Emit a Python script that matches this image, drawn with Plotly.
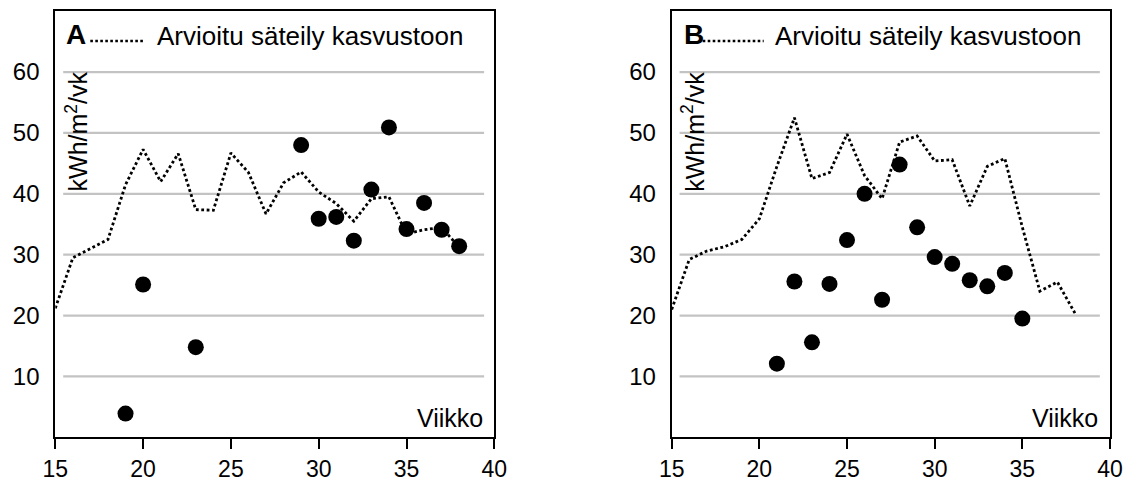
import plotly.graph_objects as go

# ---------------- data ----------------
weeks_line = list(range(15, 39))
radiation_A = [21.2, 29.5, 31.0, 32.5, 41.5, 47.3, 42.0, 46.6, 37.4, 37.3, 46.7, 43.5,
               36.7, 41.8, 43.6, 40.3, 38.4, 35.5, 39.2, 39.5, 33.4, 34.1, 34.5, 31.2]
radiation_B = [21.0, 29.2, 30.6, 31.3, 32.5, 35.9, 44.5, 52.5, 42.5, 43.5, 49.8, 43.0,
               39.2, 48.5, 49.5, 45.4, 45.6, 38.0, 44.5, 45.8, 34.5, 24.0, 25.5, 20.4]

weeks_A = [19, 20, 23, 29, 30, 31, 32, 33, 34, 35, 36, 37, 38]
values_A = [3.9, 25.1, 14.8, 48.0, 35.9, 36.2, 32.3, 40.7, 50.9, 34.2, 38.5, 34.1, 31.4]

weeks_B = [21, 22, 23, 24, 25, 26, 27, 28, 29, 30, 31, 32, 33, 34, 35]
values_B = [12.1, 25.6, 15.6, 25.2, 32.4, 40.0, 22.6, 44.8, 34.5, 29.6, 28.5, 25.8, 24.8, 27.0, 19.5]

x_ticks = [15, 20, 25, 30, 35, 40]
y_ticks = [10, 20, 30, 40, 50, 60]
panel_labels = ["A", "B"]
legend_text = "Arvioitu säteily kasvustoon"
y_title = "kWh/m<sup>2</sup>/vk"
x_title = "Viikko"

# ---------------- figure ----------------
W, H = 1125, 481
FONT = "Liberation Sans, Arial, sans-serif"

def px(x):
    return x / W

def py(y):
    return 1 - y / H

fig = go.Figure()

panels = [
    dict(xa="x", ya="y", line=radiation_A, wx=weeks_A, wy=values_A),
    dict(xa="x2", ya="y2", line=radiation_B, wx=weeks_B, wy=values_B),
]

for p in panels:
    fig.add_trace(go.Scatter(
        x=weeks_line, y=p["line"], mode="lines", xaxis=p["xa"], yaxis=p["ya"],
        line=dict(color="black", width=2.8, dash="2.8px,2.6px"), showlegend=False,
        hoverinfo="skip"))
    fig.add_trace(go.Scatter(
        x=p["wx"], y=p["wy"], mode="markers", xaxis=p["xa"], yaxis=p["ya"],
        marker=dict(color="black", size=16, line=dict(width=0)), showlegend=False))

ydom = [py(437.3), py(11.2)]
axis_common_x = dict(range=[15, 40], tickvals=x_ticks, ticks="outside", ticklen=10,
                     tickwidth=2, tickcolor="black", showline=True, linewidth=2,
                     linecolor="black", mirror=True, showgrid=False, zeroline=False,
                     automargin=False,
                     tickfont=dict(family=FONT, size=23, color="black"))
axis_common_y = dict(range=[0, 70], tickvals=y_ticks, ticks="", showline=True,
                     linewidth=2, linecolor="black", mirror=True, showgrid=False,
                     zeroline=False, ticklabelstandoff=9, automargin=False,
                     tickfont=dict(family=FONT, size=24, color="black"))

fig.update_layout(
    width=W, height=H, autosize=False,
    margin=dict(l=0, r=0, t=0, b=0, pad=0),
    paper_bgcolor="white", plot_bgcolor="white",
    xaxis=dict(domain=[px(55.3), px(494.3)], anchor="y", **axis_common_x),
    yaxis=dict(domain=ydom, anchor="x", **axis_common_y),
    xaxis2=dict(domain=[px(671.7), px(1110)], anchor="y2", **axis_common_x),
    yaxis2=dict(domain=ydom, anchor="x2", **axis_common_y),
)

# gridlines (inset from the frame)
for xa, ya in [("x", "y"), ("x2", "y2")]:
    for v in y_ticks:
        fig.add_shape(type="line", xref=xa, yref=ya, x0=15.45, x1=39.42, y0=v, y1=v,
                      line=dict(color="#c3c3c3", width=2.2), layer="below")

# legend-like header, axis titles
headers = [
    dict(frame_left=55.3, label_dx=9, line_dx=(35, 89), text_dx=100, xa="x", ya="y"),
    dict(frame_left=671.7, label_dx=10, line_dx=(31, 92), text_dx=101, xa="x2", ya="y2"),
]
for lab, h in zip(panel_labels, headers):
    fl = h["frame_left"]
    fig.add_annotation(xref="paper", yref="paper", x=px(fl + h["label_dx"]), y=py(34),
                       xanchor="left", yanchor="middle", showarrow=False,
                       text="<b>%s</b>" % lab,
                       font=dict(family=FONT, size=28, color="black"))
    fig.add_shape(type="line", xref="paper", yref="paper",
                  x0=px(fl + h["line_dx"][0]), x1=px(fl + h["line_dx"][1]),
                  y0=py(41), y1=py(41),
                  line=dict(color="black", width=2.6, dash="2.6px,2.4px"))
    fig.add_annotation(xref="paper", yref="paper", x=px(fl + h["text_dx"]), y=py(36.5),
                       xanchor="left", yanchor="middle", showarrow=False,
                       text=legend_text,
                       font=dict(family=FONT, size=26, color="black"))
    fig.add_annotation(xref=h["xa"], yref=h["ya"], x=16.22, y=50.2, textangle=-90,
                       xanchor="center", yanchor="middle", showarrow=False,
                       text=y_title, font=dict(family=FONT, size=25, color="black"))
    fig.add_annotation(xref=h["xa"], yref=h["ya"], x=39.45, y=0.6,
                       xanchor="right", yanchor="bottom", showarrow=False,
                       text=x_title, font=dict(family=FONT, size=25, color="black"))

fig.write_html("out.html",
               config={"displayModeBar": False},
               post_script="document.body.style.margin='0px';"
                           "document.body.style.overflow='hidden';")
